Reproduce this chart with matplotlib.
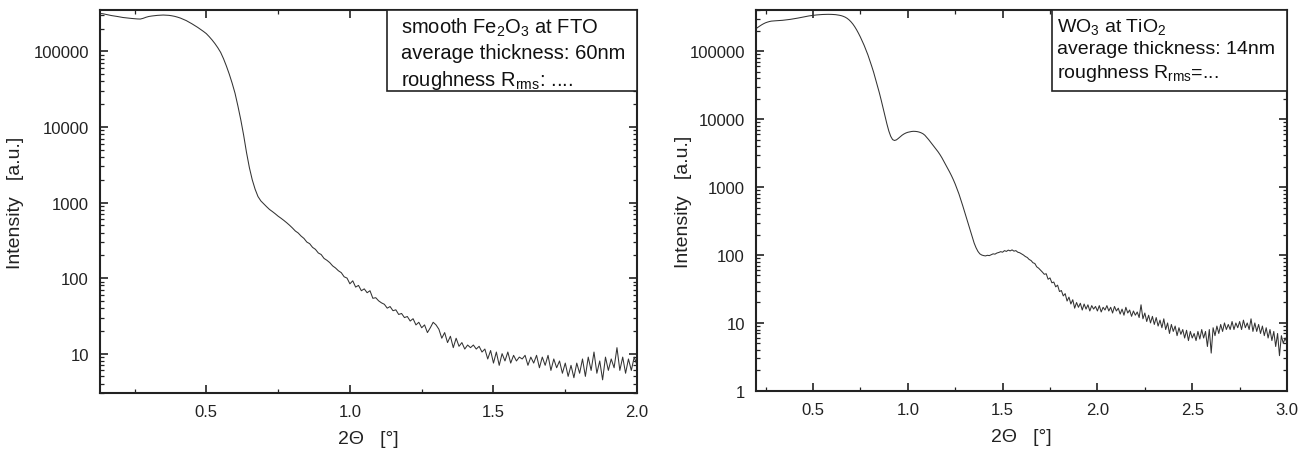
import numpy as np
import matplotlib
matplotlib.use('Agg')
import matplotlib.pyplot as plt
from matplotlib.ticker import LogLocator, MultipleLocator, FixedLocator, NullFormatter

plt.rcParams['font.family'] = ['Liberation Sans', 'DejaVu Sans']
plt.rcParams['mathtext.fontset'] = 'custom'
plt.rcParams['mathtext.rm'] = 'Liberation Sans'
plt.rcParams['mathtext.it'] = 'Liberation Sans'

# scan grids (2theta, step 0.01 deg)
two_theta_fe = np.round(np.arange(0.13, 2.0001, 0.01), 2)
two_theta_wo = np.round(np.arange(0.20, 3.0001, 0.01), 2)

# smooth Fe2O3 at FTO, intensity
intensity_fe = [
    318000, 315000, 309000, 303000, 298000, 294000, 290000, 285000, 281000, 278000,
    275000, 273000, 271000, 269000, 268000, 274000, 283000, 290000, 294000, 297000,
    300000, 302000, 303000, 302000, 300000, 296000, 291000, 284000, 276000, 266000,
    256000, 244000, 232000, 220000, 208000, 196000, 184000, 172000, 157000, 142000,
    127000, 112000, 97000, 80000, 64000, 50000, 38000, 28000, 19000, 12500,
    7800, 4600, 2900, 2000, 1500, 1200, 1050, 960, 880, 810,
    760, 710, 660, 620, 580, 540, 500, 460, 420, 395,
    360, 335, 300, 285, 255, 240, 215, 205, 182, 172,
    160, 145, 136, 125, 118, 104, 100, 84, 92, 76,
    80, 68, 72, 64, 68, 54, 55, 50, 47, 45,
    40, 42, 37, 38, 33, 34, 30, 31, 27, 29,
    24, 26, 22, 24, 19, 22, 26, 24, 21, 16,
    19, 14, 17, 12, 16, 12.5, 14, 11.5, 13, 12,
    13, 11.5, 12.5, 10.5, 11.5, 8.5, 11, 7.5, 10.5, 7,
    10, 8, 10.5, 7.5, 9.5, 8, 9, 8.5, 9.5, 7,
    9, 7.5, 9.5, 6.5, 9, 7, 9.5, 6, 8.5, 6.5,
    8, 5.5, 7.5, 5, 7, 4.8, 7.5, 5.5, 8.5, 5,
    9, 6, 10.5, 5.5, 8, 4.5, 9, 6, 8.5, 6.5,
    12, 6, 9, 5.5, 8.5, 6, 9, 7,
]

# WO3 at TiO2
intensity_wo = [
    215000, 225000, 235000, 245000, 254000, 262000, 268000, 273000, 277000, 279000,
    280000, 281000, 282000, 283000, 285000, 287000, 289000, 291000, 294000, 297000,
    300000, 303000, 307000, 311000, 315000, 319000, 323000, 327000, 331000, 334000,
    337000, 340000, 342000, 344000, 346000, 347000, 348000, 349000, 349000, 349000,
    348000, 347000, 345000, 342000, 338000, 333000, 326000, 317000, 305000, 290000,
    272000, 252000, 230000, 207000, 184000, 162000, 141000, 122000, 104000, 88000,
    73000, 60000, 49000, 39000, 31000, 24500, 19000, 14500, 11000, 8500,
    6700, 5600, 5000, 4850, 4950, 5200, 5500, 5800, 6050, 6250,
    6400, 6500, 6580, 6620, 6600, 6550, 6450, 6300, 6100, 5800,
    5400, 5000, 4600, 4250, 3900, 3600, 3300, 3000, 2700, 2400,
    2150, 1900, 1680, 1480, 1290, 1110, 940, 790, 650, 530,
    430, 350, 285, 230, 185, 150, 128, 113, 104, 100,
    98, 97, 99, 98, 101, 104, 103, 107, 109, 112,
    110, 116, 113, 118, 115, 119, 114, 116, 110, 108,
    104, 100, 95, 92, 86, 83, 77, 75, 67, 64,
    60, 56, 52, 53, 44, 46, 39, 40, 34, 36,
    29, 30, 25, 27, 21, 24, 19, 22, 16.5, 20,
    17, 19.5, 15.5, 19, 16, 18.5, 15, 18, 16, 17.5,
    15, 18, 14.5, 17, 15.5, 18, 15, 17, 14, 17.5,
    15, 16.5, 13.5, 16, 13, 17, 14, 15.5, 12.5, 15,
    13, 14.5, 12, 18.5, 11.5, 14, 10.5, 13, 10, 12.5,
    9.5, 12, 9, 11, 8.5, 11.5, 8, 10, 7, 9.5,
    7.5, 9, 6.5, 8.5, 6.8, 8, 6, 7.8, 5.5, 7.5,
    6, 7, 5.5, 7.5, 5.8, 8, 6, 7.5, 4.5, 8,
    3.6, 8.5, 6.5, 9, 7, 9.5, 7.5, 10, 8, 9.5,
    8, 10.5, 8, 10, 8.5, 10.5, 8, 11, 8.5, 10,
    8, 11.5, 7.5, 10, 7.5, 9.5, 7, 9, 6.5, 8.5,
    6, 8, 5.5, 7.5, 4.5, 7, 3.3, 6.5, 5, 6,
    5,
]

label_fe = 'smooth Fe$_2$O$_3$ at FTO\naverage thickness: 60nm\nroughness R$_{rms}$: ....'
label_wo = 'WO$_3$ at TiO$_2$\naverage thickness: 14nm\nroughness R$_{rms}$=...'

fig = plt.figure(figsize=(13.06, 4.52), dpi=100)
ax1 = fig.add_axes([0.0766, 0.128, 0.4112, 0.847])
ax2 = fig.add_axes([0.5789, 0.133, 0.4066, 0.842])

# ax, x, y, xlim, ylim, yticks, label, box (x0, y0, w, h), text x, text size, ylabel x
panels = [
    (ax1, two_theta_fe, intensity_fe, (0.13, 2.0), (3, 3.5e5), [10, 100, 1000, 10000, 100000],
     label_fe, (0.534, 0.79, 0.466, 0.21), 0.560, 14.5, -0.141),
    (ax2, two_theta_wo, intensity_wo, (0.2, 3.0), (1, 4e5), [1, 10, 100, 1000, 10000, 100000],
     label_wo, (0.557, 0.787, 0.443, 0.213), 0.566, 14, -0.12),
]

for ax, x, y, xlim, ylim, yticks, label, box, tx, tsize, ylx in panels:
    ax.plot(x, y, color='#333333', lw=0.75)
    ax.set_yscale('log')
    ax.set_xlim(*xlim)
    ax.set_ylim(*ylim)
    ax.yaxis.set_major_locator(FixedLocator(yticks))
    ax.set_yticklabels([str(t) for t in yticks])
    ax.yaxis.set_minor_locator(LogLocator(base=10, subs=np.arange(2, 10)))
    ax.yaxis.set_minor_formatter(NullFormatter())
    ax.xaxis.set_major_locator(MultipleLocator(0.5))
    ax.xaxis.set_minor_locator(MultipleLocator(0.25))
    ax.xaxis.set_major_formatter(matplotlib.ticker.FormatStrFormatter('%.1f'))
    ax.tick_params(which='both', direction='in', top=True, right=True,
                   labelsize=12, colors='#222222', pad=8)
    ax.tick_params(which='major', length=6, width=1.2)
    ax.tick_params(which='minor', length=3, width=0.9)
    for s in ax.spines.values():
        s.set_linewidth(1.5)
        s.set_color('#222222')
    ax.set_xlabel('2Θ   [°]', fontsize=14, labelpad=8, color='#222222')
    ax.set_ylabel('Intensity   [a.u.]', fontsize=14, color='#222222')
    ax.yaxis.set_label_coords(ylx, 0.5)
    rect = plt.Rectangle((box[0], box[1]), box[2], box[3], transform=ax.transAxes,
                         fill=True, fc='white', ec='#222222', lw=1.2, zorder=5)
    ax.add_patch(rect)
    ax.text(tx, 0.985, label, transform=ax.transAxes,
            ha='left', va='top', fontsize=tsize, linespacing=1.32, color='#111111', zorder=6)

fig.savefig('out.png', dpi=100)
